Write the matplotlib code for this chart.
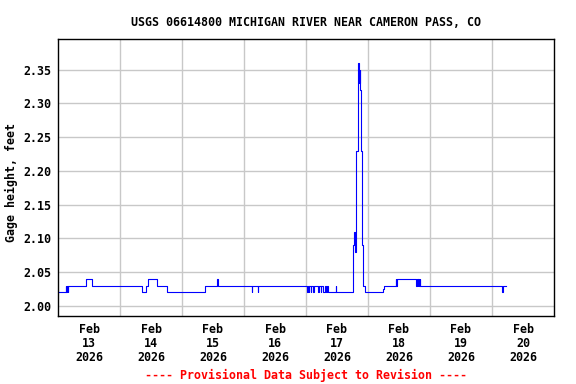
import numpy as np
import matplotlib
matplotlib.use("Agg")
from matplotlib import pyplot as plt

# Gage height change points: hours after Feb 13 00:00, value in feet (held until next point)
hours = [0.0, 3.0, 3.25, 3.5, 3.75, 4.0, 11.0, 13.25,
         32.5, 34.0, 34.75, 38.25, 42.0,
         57.0, 61.5, 62.0, 75.0, 75.25, 77.25, 77.5,
         96.5, 96.75, 97.0, 97.25, 97.75, 98.0, 98.75, 99.0, 100.75, 101.0,
         101.75, 102.0, 102.5, 103.25, 103.75, 104.25, 104.5,
         107.5, 107.75,
         114.25, 114.75, 115.0, 115.25, 115.5, 116.25, 116.5, 116.75, 117.0,
         117.25, 117.5, 118.0, 118.75,
         125.75, 126.25, 130.75, 131.0, 131.25, 131.5,
         138.75, 139.0, 139.25, 139.5, 139.75, 140.0, 140.25, 140.5,
         172.0, 172.25, 173.25]
gage = [2.02, 2.03, 2.02, 2.03, 2.02, 2.03, 2.04, 2.03,
        2.02, 2.03, 2.04, 2.03, 2.02,
        2.03, 2.04, 2.03, 2.02, 2.03, 2.02, 2.03,
        2.02, 2.03, 2.02, 2.03, 2.02, 2.03, 2.02, 2.03, 2.02, 2.03,
        2.02, 2.03, 2.02, 2.03, 2.02, 2.03, 2.02,
        2.03, 2.02,
        2.09, 2.11, 2.08, 2.11, 2.23, 2.36, 2.33, 2.35, 2.32,
        2.23, 2.09, 2.03, 2.02,
        2.025, 2.03, 2.04, 2.03, 2.04, 2.04,
        2.03, 2.04, 2.03, 2.04, 2.03, 2.04, 2.03, 2.03,
        2.02, 2.03, 2.03]

day_labels = ["Feb\n13\n2026", "Feb\n14\n2026", "Feb\n15\n2026", "Feb\n16\n2026",
              "Feb\n17\n2026", "Feb\n18\n2026", "Feb\n19\n2026", "Feb\n20\n2026"]
y_ticks = [2.00, 2.05, 2.10, 2.15, 2.20, 2.25, 2.30, 2.35]

font = dict(family="DejaVu Sans Mono", weight="bold", size=8.4)

fig = plt.figure(figsize=(5.76, 3.84), dpi=100)
ax = fig.add_axes([58/576, 1-316/384, 496/576, 276.7/384])

ax.plot(hours, gage, drawstyle="steps-post", color="#0000ff", lw=0.8)

ax.set_xlim(0, 192)
ax.set_ylim(1.9852, 2.3947)

# gridlines at midnight, labels at noon
ax.set_xticks(np.arange(24, 192, 24))
ax.set_xticklabels([])
ax.set_xticks(np.arange(12, 192, 24), minor=True)
ax.set_xticklabels(day_labels, minor=True, linespacing=1.12, **font)
ax.set_yticks(y_ticks)
ax.set_yticklabels([f"{v:.2f}" for v in y_ticks], **font)
ax.tick_params(which="both", length=0)
ax.tick_params(axis="x", which="minor", pad=5)
ax.tick_params(axis="y", pad=5)
ax.grid(True, which="major", color="#c8c8c8", lw=1)
ax.set_axisbelow(True)
for s in ax.spines.values():
    s.set_color("black")
    s.set_linewidth(1)

fig.text(11/576, 1-183/384, "Gage height, feet", rotation=90, ha="center", va="center", **font)
fig.text(306/576, 1-22/384, "USGS 06614800 MICHIGAN RIVER NEAR CAMERON PASS, CO",
         ha="center", va="center", **font)
fig.text(306/576, 1-375/384, "---- Provisional Data Subject to Revision ----",
         ha="center", va="center", color="red", **font)

fig.savefig("out.png", dpi=100)
plt.close()
